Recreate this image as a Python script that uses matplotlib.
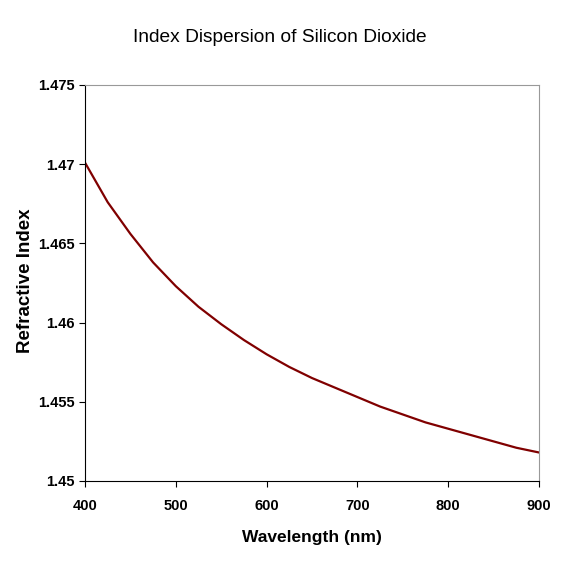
import matplotlib
matplotlib.use("Agg")
import matplotlib.pyplot as plt

# wavelength (nm) and refractive index
wavelength = [400, 425, 450, 475, 500, 525, 550, 575, 600, 625, 650,
              675, 700, 725, 750, 775, 800, 825, 850, 875, 900]
index = [1.4701, 1.4676, 1.4656, 1.4638, 1.4623, 1.4610, 1.4599, 1.4589,
         1.4580, 1.4572, 1.4565, 1.4559, 1.4553, 1.4547, 1.4542, 1.4537,
         1.4533, 1.4529, 1.4525, 1.4521, 1.4518]

x_ticks = [400, 500, 600, 700, 800, 900]
y_ticks = [1.45, 1.455, 1.46, 1.465, 1.47, 1.475]
y_labels = ['1.45', '1.455', '1.46', '1.465', '1.47', '1.475']

fam = ['Liberation Sans', 'DejaVu Sans']

fig = plt.figure(figsize=(5.62, 5.62), dpi=100)
ax = fig.add_axes([85 / 562, 1 - 481 / 562, 454 / 562, 396 / 562])

ax.plot(wavelength, index, color='#800000', lw=1.6)

ax.set_xlim(400, 900)
ax.set_ylim(1.45, 1.475)
ax.set_xticks(x_ticks)
ax.set_yticks(y_ticks)
ax.set_yticklabels(y_labels)

for lab in ax.get_xticklabels() + ax.get_yticklabels():
    lab.set_family(fam)
    lab.set_fontweight('bold')
    lab.set_fontsize(10.5)

ax.tick_params(direction='out', length=4, width=0.8, color='black')
ax.tick_params(axis='x', pad=9)
ax.spines['left'].set_color('black')
ax.spines['bottom'].set_color('black')
ax.spines['top'].set_color('#999999')
ax.spines['right'].set_color('#999999')

ax.set_xlabel('Wavelength (nm)', family=fam, fontweight='bold', fontsize=12.5, labelpad=12)
ax.set_ylabel('Refractive Index', family=fam, fontweight='bold', fontsize=13.5)
ax.yaxis.set_label_coords(-0.132, 0.505)
ax.yaxis.label.set_va('center')

fig.text(280 / 562, 1 - 38 / 562, 'Index Dispersion of Silicon Dioxide',
         family=fam, fontsize=13.8, ha='center', va='center')

fig.savefig('out.png', dpi=100)
